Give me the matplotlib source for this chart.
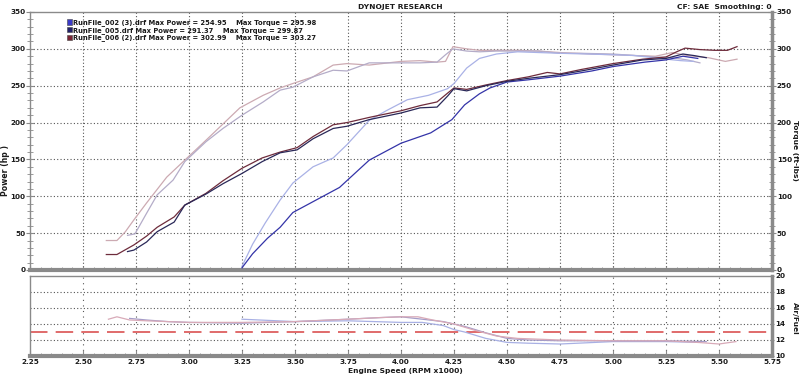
import matplotlib
matplotlib.use("Agg")
import matplotlib.pyplot as plt
from matplotlib.patches import Patch
from matplotlib.ticker import MultipleLocator
import numpy as np

# ---------------- data ----------------
run_names = ["RunFile_002 (3).drf", "RunFile_005.drf", "RunFile_006 (2).drf"]
max_power = [254.95, 291.37, 302.99]
max_torque = [295.98, 299.87, 303.27]

# Run 002 (3)
rpm_p002 = [3.25, 3.30, 3.37, 3.43, 3.49, 3.60, 3.71, 3.85, 4.00, 4.14, 4.24, 4.30, 4.37, 4.42,
            4.50, 4.60, 4.75, 4.90, 5.00, 5.15, 5.25, 5.33, 5.40]
pow_002 = [3, 22, 43, 58, 78, 95, 112, 149, 172, 186, 204, 224, 239, 247,
           255, 258, 263, 270, 276, 282, 285, 290, 287]
rpm_t002 = [3.25, 3.30, 3.36, 3.43, 3.49, 3.585, 3.68, 3.745, 3.85, 3.93, 4.03, 4.13, 4.22, 4.25,
            4.31, 4.37, 4.45, 4.55, 4.75, 5.00, 5.10, 5.25, 5.32, 5.38]
trq_002 = [5, 35, 64, 95, 118, 140, 152, 170, 203, 216, 231, 237, 246, 253,
           274, 287, 293, 296, 294, 292, 291, 286, 284, 283]

# Run 005
rpm_p005 = [2.71, 2.74, 2.80, 2.85, 2.93, 2.98, 3.08, 3.16, 3.25, 3.345, 3.43, 3.51, 3.585, 3.68,
            3.745, 3.85, 4.00, 4.09, 4.17, 4.22, 4.25, 4.31, 4.40, 4.50, 4.60, 4.75, 4.85,
            5.00, 5.14, 5.25, 5.33, 5.38, 5.44]
pow_005 = [25, 27, 38, 52, 65, 88, 103, 117, 131, 147, 159, 163, 178, 192,
           195, 204, 213, 220, 221, 236, 246, 243, 250, 256, 260, 265, 270,
           278, 285, 287, 293, 291, 288]
rpm_t005 = [2.71, 2.745, 2.80, 2.85, 2.925, 2.98, 3.08, 3.16, 3.25, 3.35, 3.43, 3.49, 3.585, 3.68,
            3.745, 3.85, 4.00, 4.09, 4.17, 4.21, 4.245, 4.31, 4.37, 4.45, 4.55, 4.65, 4.75,
            4.85, 5.00, 5.10, 5.20, 5.28, 5.35, 5.41]
trq_005 = [47, 49, 77, 102, 122, 147, 174, 192, 210, 228, 244, 248, 262, 271,
           270, 281, 281, 281, 282, 292, 300, 297, 296, 297, 297, 297, 294,
           294, 293, 291, 289, 288, 285, 281]

# Run 006 (2)
rpm_p006 = [2.61, 2.66, 2.74, 2.80, 2.85, 2.93, 2.98, 3.08, 3.16, 3.25, 3.345, 3.43, 3.51, 3.585,
            3.68, 3.745, 3.85, 4.00, 4.09, 4.17, 4.22, 4.25, 4.31, 4.40, 4.50, 4.60, 4.69,
            4.75, 4.85, 5.00, 5.14, 5.25, 5.30, 5.34, 5.41, 5.48, 5.54, 5.585]
pow_006 = [21, 21, 34, 46, 58, 72, 88, 104, 121, 138, 152, 160, 166, 181,
           197, 200, 207, 216, 223, 228, 240, 247, 245, 251, 257, 262, 268,
           266, 272, 280, 286, 289, 296, 301, 299, 298, 298, 303]
rpm_t006 = [2.61, 2.66, 2.70, 2.74, 2.80, 2.895, 2.98, 3.08, 3.16, 3.24, 3.35, 3.43, 3.49, 3.585,
            3.68, 3.745, 3.85, 4.00, 4.09, 4.17, 4.21, 4.245, 4.31, 4.37, 4.45, 4.55, 4.65,
            4.75, 4.90, 5.00, 5.10, 5.20, 5.28, 5.35, 5.45, 5.53, 5.585]
trq_006 = [40, 40, 52, 68, 91, 126, 149, 176, 198, 220, 237, 247, 253, 262,
           278, 280, 278, 283, 284, 282, 283, 303, 300, 298, 298, 298, 297,
           295, 293, 292, 291, 290, 295, 291, 288, 283, 286]

# Air / Fuel
rpm_a002 = [3.25, 3.50, 3.75, 4.00, 4.10, 4.20, 4.25, 4.30, 4.40, 4.50, 4.60, 4.75, 5.00, 5.25, 5.40]
afr_002 = [14.6, 14.3, 14.4, 14.2, 14.2, 13.8, 13.3, 13.0, 12.2, 11.7, 11.6, 11.5, 11.8, 11.8, 11.7]
rpm_a005 = [2.72, 2.80, 2.90, 3.00, 3.25, 3.50, 3.75, 3.90, 4.00, 4.10, 4.20, 4.30, 4.40, 4.50,
            4.60, 4.75, 5.00, 5.25, 5.44]
afr_005 = [14.7, 14.5, 14.3, 14.2, 14.1, 14.3, 14.6, 14.8, 14.9, 14.6, 14.3, 13.7, 12.9, 12.2,
           12.0, 11.9, 11.9, 11.9, 11.8]
rpm_a006 = [2.62, 2.66, 2.72, 2.80, 2.90, 3.00, 3.25, 3.50, 3.75, 3.90, 4.00, 4.08, 4.15, 4.25,
            4.35, 4.45, 4.55, 4.75, 5.00, 5.25, 5.40, 5.50, 5.58]
afr_006 = [14.6, 14.9, 14.5, 14.4, 14.3, 14.2, 14.2, 14.3, 14.6, 14.8, 14.9, 14.9, 14.5, 14.0,
           13.2, 12.5, 12.2, 12.0, 11.9, 11.9, 11.7, 11.5, 11.8]
afr_target = 13.0

# ---------------- styling ----------------
c_p = ["#3434a8", "#2a2858", "#6e2c3c"]
c_t = ["#aab2e6", "#b4acc8", "#ccaab2"]
c_a = ["#a8b0e4", "#a49cc8", "#d8aab8"]
c_icon = ["#3a3ac8", "#22226a", "#7a2434"]
frame = "#8a8a8a"
txt = "#1a1a1a"
fs = 5.2

fig = plt.figure(figsize=(8, 3.75), dpi=100)
fig.patch.set_facecolor("white")
ax = fig.add_axes([30/800, 1-270/375, 742/800, 258/375])
ax2 = fig.add_axes([30/800, 1-356/375, 742/800, 80/375])

for a in (ax, ax2):
    a.set_xlim(2.25, 5.75)
    for s in a.spines.values():
        s.set_color(frame)
        s.set_linewidth(1.0)
    a.spines["bottom"].set_linewidth(3.0)
    a.spines["right"].set_linewidth(2.5)
    a.xaxis.set_major_locator(MultipleLocator(0.25))
    a.xaxis.set_minor_locator(MultipleLocator(0.05))

# top panel
ax.set_ylim(0, 350)
ax.yaxis.set_major_locator(MultipleLocator(50))
ax.yaxis.set_minor_locator(MultipleLocator(10))
ax.tick_params(axis="y", which="both", left=True, right=True, labelleft=True, labelright=True,
               direction="inout", colors=frame, labelcolor=txt, labelsize=fs, pad=0.5)
ax.tick_params(axis="y", which="major", length=6)
ax.tick_params(axis="y", which="minor", length=4)
ax.tick_params(axis="x", which="both", bottom=True, labelbottom=False, direction="in",
               colors=frame)
ax.tick_params(axis="x", which="major", length=3)
ax.tick_params(axis="x", which="minor", length=2)
for lab in ax.get_yticklabels():
    lab.set_fontweight("bold")
for x in np.arange(2.5, 5.75, 0.25):
    ax.axvline(x, color="#555555", lw=0.8, ls=(0, (1, 2)), zorder=1)
for y in range(50, 350, 50):
    ax.axhline(y, color="#555555", lw=0.8, ls=(0, (1, 2)), zorder=1)

ax.plot(rpm_t006, trq_006, color=c_t[2], lw=0.9, zorder=3)
ax.plot(rpm_t005, trq_005, color=c_t[1], lw=0.9, zorder=3)
ax.plot(rpm_t002, trq_002, color=c_t[0], lw=0.9, zorder=3)
ax.plot(rpm_p002, pow_002, color=c_p[0], lw=0.9, zorder=4)
ax.plot(rpm_p006, pow_006, color=c_p[2], lw=0.9, zorder=4)
ax.plot(rpm_p005, pow_005, color=c_p[1], lw=0.9, zorder=4)

fig.text(6/800, 1-170/375, "Power (hp )", rotation=90, ha="center", va="center",
         fontsize=5.6, fontweight="bold", color=txt)
fig.text(795/800, 1-150/375, "Torque (ft-lbs)", rotation=-90, ha="center", va="center",
         fontsize=5.4, fontweight="bold", color=txt)
fig.text(795/800, 1-318/375, "Air/Fuel", rotation=-90, ha="center", va="center",
         fontsize=5.4, fontweight="bold", color=txt)

labels = [f"{n} Max Power = {p:.2f}    Max Torque = {t:.2f}"
          for n, p, t in zip(run_names, max_power, max_torque)]
handles = [Patch(facecolor=c, edgecolor="#444444", lw=0.4) for c in c_icon]
leg = ax.legend(handles, labels, loc="upper left", bbox_to_anchor=(0.045, 0.985),
                frameon=False, fontsize=4.9, handlelength=0.7, handleheight=0.8,
                handletextpad=0.2, labelspacing=0.1, borderpad=0)
for t in leg.get_texts():
    t.set_fontweight("bold")
    t.set_color(txt)

# bottom panel
ax2.set_ylim(10, 20)
ax2.yaxis.set_major_locator(MultipleLocator(2))
ax2.yaxis.set_minor_locator(MultipleLocator(1))
ax2.tick_params(axis="y", which="both", left=False, right=True, labelleft=False,
                labelright=True, direction="inout", colors=frame, labelcolor=txt,
                labelsize=fs, pad=0.5)
ax2.tick_params(axis="x", which="both", direction="in", colors=frame, labelcolor=txt,
                labelsize=fs, pad=2.5)
ax2.tick_params(axis="x", which="major", length=4)
ax2.tick_params(axis="x", which="minor", length=2.5)
for lab in ax2.get_yticklabels() + ax2.get_xticklabels():
    lab.set_fontweight("bold")
for x in np.arange(2.5, 5.75, 0.25):
    ax2.axvline(x, color="#555555", lw=0.8, ls=(0, (1, 4)), zorder=1)
for y in range(12, 20, 2):
    ax2.axhline(y, color="#555555", lw=0.8, ls=(0, (1, 2)), zorder=1)
ax2.axhline(afr_target, color="#e06a6a", lw=1.4, dashes=(9, 4.2), zorder=2)
ax2.plot(rpm_a002, afr_002, color=c_a[0], lw=0.9, zorder=3)
ax2.plot(rpm_a005, afr_005, color=c_a[1], lw=0.9, zorder=3)
ax2.plot(rpm_a006, afr_006, color=c_a[2], lw=0.9, zorder=3)
fig.text(348/800, 1-371.5/375, "Engine Speed (RPM x1000)", ha="left", va="center",
         fontsize=5.4, fontweight="bold", color=txt)

fig.text(0.5, 0.99, "DYNOJET RESEARCH", ha="center", va="top", fontsize=5.4,
         fontweight="bold", color=txt)
fig.text(772/800, 0.99, "CF: SAE  Smoothing: 0", ha="right", va="top", fontsize=5.4,
         fontweight="bold", color=txt)

# nudge overlapping edge labels like the reference
fig.canvas.draw()
ax.yaxis.get_major_ticks()[0].label2.set_va("bottom")
ax2.yaxis.get_major_ticks()[-1].label2.set_va("top")

fig.savefig("out.png", dpi=100, facecolor="white")
